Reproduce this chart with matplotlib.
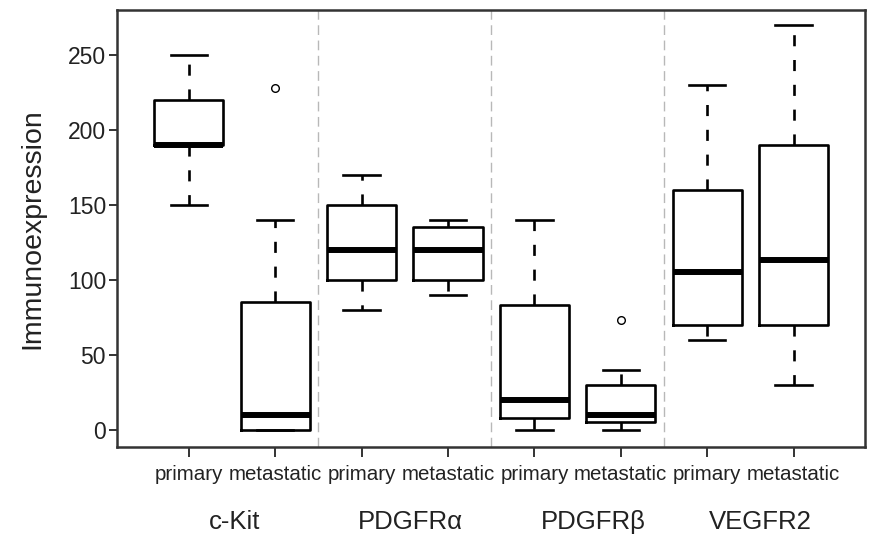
import matplotlib.pyplot as plt

plt.rcParams['font.family'] = ['Liberation Sans', 'DejaVu Sans']

markers = ['c-Kit', 'PDGFR\u03b1', 'PDGFR\u03b2', 'VEGFR2']
sites = ['primary', 'metastatic']

# box statistics per marker/site, in order: c-Kit p/m, PDGFRa p/m, PDGFRb p/m, VEGFR2 p/m
whislo = [150, 0, 80, 90, 0, 0, 60, 30]
q1 = [190, 0, 100, 100, 8, 5, 70, 70]
med = [190, 10, 120, 120, 20, 10, 105, 113]
q3 = [220, 85, 150, 135, 83, 30, 160, 190]
whishi = [250, 140, 170, 140, 140, 40, 230, 270]
fliers = [[], [228], [], [], [], [73], [], []]

stats = []
for i in range(len(med)):
    stats.append(dict(whislo=whislo[i], q1=q1[i], med=med[i], q3=q3[i],
                      whishi=whishi[i], fliers=fliers[i]))

fig = plt.figure(figsize=(8.74, 5.41), dpi=100)
ax = fig.add_axes([0.134, 0.174, 0.856, 0.808])

positions = list(range(1, len(med) + 1))
ax.bxp(stats, positions=positions, widths=0.8, patch_artist=False,
       boxprops=dict(color='black', linewidth=1.9),
       medianprops=dict(color='black', linewidth=4.3, solid_capstyle='butt'),
       whiskerprops=dict(color='black', linewidth=1.9, linestyle=(0, (4.2, 5.2))),
       capprops=dict(color='black', linewidth=1.9),
       capwidths=0.42,
       flierprops=dict(marker='o', markersize=5.5, markerfacecolor='none',
                       markeredgecolor='black', markeredgewidth=1.0))

# separators between marker groups
for xs in [2.5, 4.5, 6.5]:
    ax.axvline(xs, color='#b8b8b8', linewidth=1.0, linestyle=(0, (7, 4)), zorder=0)

ax.set_xlim(0.17, 8.83)
ax.set_ylim(-11.3, 280)
ax.set_yticks([0, 50, 100, 150, 200, 250])
ax.set_xticks(positions)
ax.set_xticklabels(sites * len(markers))

for side in ['top', 'right', 'left', 'bottom']:
    ax.spines[side].set_color('#333333')
    ax.spines[side].set_linewidth(1.8)

ax.tick_params(axis='y', labelsize=16.5, length=6, width=1.4, color='#333333',
               pad=2, labelcolor='#222222')
ax.tick_params(axis='x', labelsize=14.8, length=7, width=1.4, color='#333333',
               pad=6, labelcolor='#222222')

ax.set_ylabel('Immunoexpression', fontsize=20.5, color='#222222', labelpad=16)

label_x = [1.53, 3.56, 5.68, 7.61]
for name, lx in zip(markers, label_x):
    ax.text(lx, -0.171, name, transform=ax.get_xaxis_transform(), ha='center',
            va='center', fontsize=18.5, color='#222222')

fig.savefig('out.png', dpi=100)
